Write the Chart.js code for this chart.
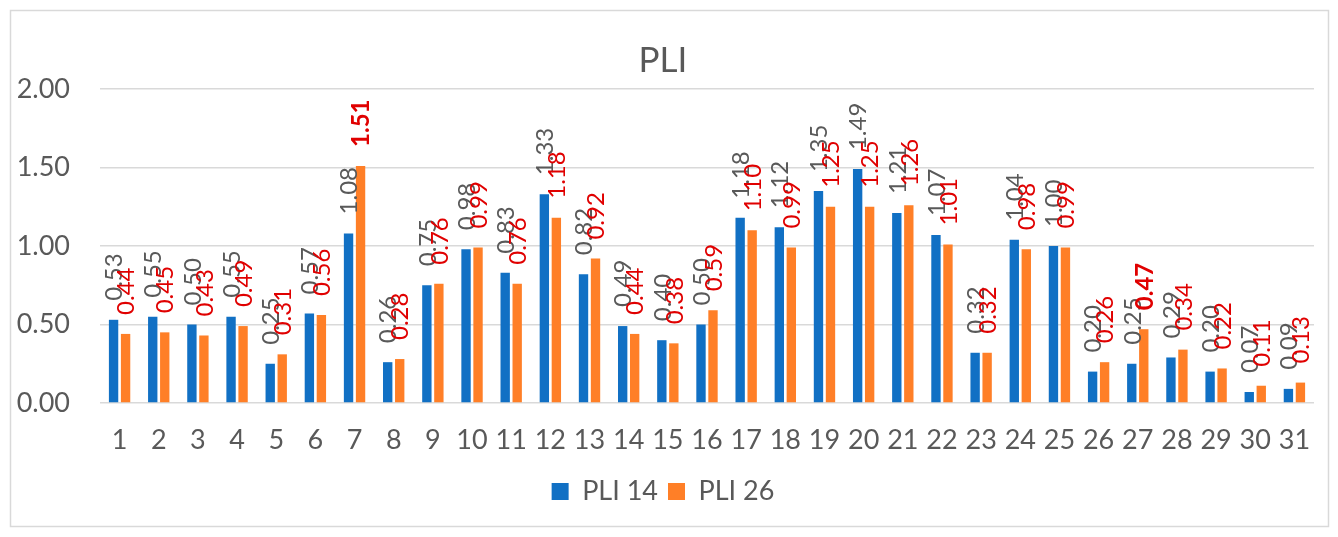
<!DOCTYPE html>
<html>
<head>
<meta charset="utf-8">
<script src="https://cdn.jsdelivr.net/npm/chart.js@4.4.1/dist/chart.umd.min.js"></script>
<style>
  html, body { margin: 0; padding: 0; background: #ffffff; }
  canvas { display: block; }
</style>
</head>
<body>
<canvas id="c" width="1338" height="537"></canvas>
<script>
const categories = ['1','2','3','4','5','6','7','8','9','10','11','12','13','14','15','16','17','18','19','20','21','22','23','24','25','26','27','28','29','30','31'];
const pli14 = [0.53,0.55,0.50,0.55,0.25,0.57,1.08,0.26,0.75,0.98,0.83,1.33,0.82,0.49,0.40,0.50,1.18,1.12,1.35,1.49,1.21,1.07,0.32,1.04,1.00,0.20,0.25,0.29,0.20,0.07,0.09];
const pli26 = [0.44,0.45,0.43,0.49,0.31,0.56,1.51,0.28,0.76,0.99,0.76,1.18,0.92,0.44,0.38,0.59,1.10,0.99,1.25,1.25,1.26,1.01,0.32,0.98,0.99,0.26,0.47,0.34,0.22,0.11,0.13];
const seriesNames = ['PLI 14', 'PLI 26'];
const yTicks = [0, 0.5, 1.0, 1.5, 2.0];

const FONT = 'Lato, "Open Sans", sans-serif';
const GREY = '#595959';

const frame = {
  id: 'frame',
  beforeDraw(chart) {
    const ctx = chart.ctx;
    ctx.save();
    ctx.fillStyle = '#ffffff';
    ctx.fillRect(0, 0, chart.width, chart.height);
    ctx.strokeStyle = '#d9d9d9';
    ctx.lineWidth = 1.5;
    ctx.strokeRect(10.5, 10.5, 1318, 516);
    ctx.restore();
  }
};

const valueLabels = {
  id: 'valueLabels',
  afterDatasetsDraw(chart, args, opts) {
    const ctx = chart.ctx;
    chart.data.datasets.forEach((ds, di) => {
      const meta = chart.getDatasetMeta(di);
      meta.data.forEach((bar, i) => {
        const v = ds.data[i];
        const bold = (opts.bold[di] || []).includes(i);
        ctx.save();
        ctx.translate(bar.x + 1, bar.y - 19);
        ctx.rotate(-Math.PI / 2);
        ctx.font = (bold ? 'bold ' : '') + '24px ' + FONT;
        ctx.fillStyle = opts.colors[di];
        ctx.textAlign = 'left';
        ctx.textBaseline = 'middle';
        ctx.fillText(v.toFixed(2), 0, 0);
        ctx.restore();
      });
    });
  }
};

new Chart(document.getElementById('c'), {
  type: 'bar',
  data: {
    labels: categories,
    datasets: [
      { label: seriesNames[0], data: pli14, backgroundColor: '#1170C4', categoryPercentage: 0.613, barPercentage: 0.78 },
      { label: seriesNames[1], data: pli26, backgroundColor: '#FF7F27', categoryPercentage: 0.613, barPercentage: 0.78 }
    ]
  },
  options: {
    responsive: false,
    animation: false,
    layout: { padding: { top: 10, left: 12, right: 24, bottom: 22 } },
    plugins: {
      title: {
        display: true, text: 'PLI', color: GREY,
        font: { family: FONT, size: 35, weight: 'normal' },
        padding: { top: 30, bottom: 7 }
      },
      legend: {
        position: 'bottom',
        labels: {
          color: GREY, boxWidth: 17, boxHeight: 17, padding: 10,
          font: { family: FONT, size: 27 }
        }
      },
      tooltip: { enabled: false },
      valueLabels: {
        colors: [GREY, '#E00000'],
        bold: [[], [6, 26]]
      }
    },
    scales: {
      x: {
        grid: { display: false, drawTicks: false },
        border: { display: false },
        ticks: { color: GREY, font: { family: FONT, size: 27 }, padding: 21, maxRotation: 0, autoSkip: false },
        afterFit(scale) { scale.height = 65; }
      },
      y: {
        min: 0, max: 2,
        afterBuildTicks(scale) { scale.ticks = yTicks.map(v => ({ value: v })); },
        grid: { color: '#d9d9d9', lineWidth: 1.5, drawTicks: false },
        border: { display: false },
        ticks: { color: GREY, font: { family: FONT, size: 27 }, padding: 30, callback: v => Number(v).toFixed(2) },
        afterFit(scale) { scale.width = 88; }
      }
    }
  },
  plugins: [frame, valueLabels]
});
</script>
</body>
</html>
